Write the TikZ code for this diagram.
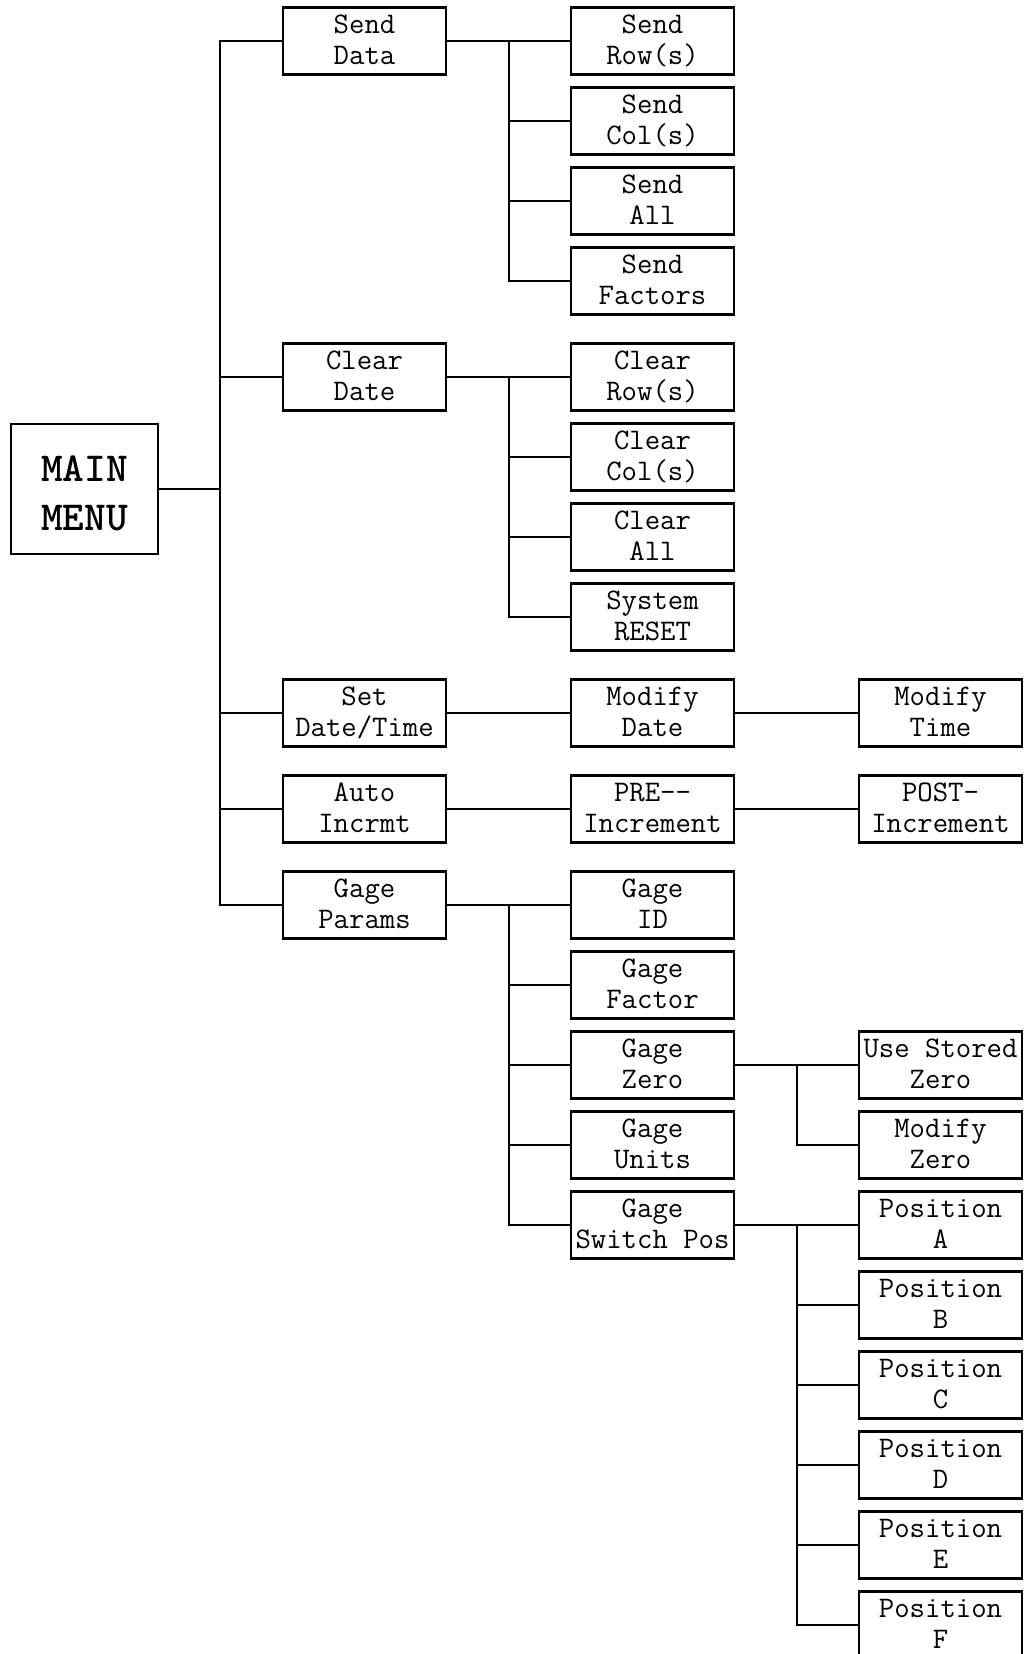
\documentclass[tikz,border=0pt]{standalone}
\usepackage{fontspec}
\begin{document}
\begin{tikzpicture}[x=0.02cm, y=-0.02cm, line width=1.2pt,
    voce/.style={draw, minimum width=3.26cm, minimum height=1.34cm, inner sep=0pt,
        text height=1.146cm, text depth=0.194cm,
        align=center, font=\ttfamily\fontsize{17}{18}\selectfont},
    radice/.style={draw, minimum width=2.94cm, minimum height=2.6cm, inner sep=0pt,
        text height=2.134cm, text depth=0.466cm,
        align=center, font=\ttfamily\bfseries\fontsize{23.5}{27.9}\selectfont}]
    \useasboundingbox (0,0) rectangle (1026,1654);

    % Menu principale
    \node[radice] (main) at (84.5,489) {MAIN\\MENU};

    % Primo livello
    \node[voce] (senddata) at (364.5,41) {Send\\Data};
    \node[voce] (cleardate) at (364.5,377) {Clear\\Date};
    \node[voce] (setdt) at (364.5,713) {Set\\Date/Time};
    \node[voce] (autoinc) at (364.5,809) {Auto\\Incrmt};
    \node[voce] (gageprm) at (364.5,905) {Gage\\Params};

    % Secondo livello
    \node[voce] (sendrow) at (652.5,41) {Send\\Row(s)};
    \node[voce] (sendcol) at (652.5,121) {Send\\Col(s)};
    \node[voce] (sendall) at (652.5,201) {Send\\All};
    \node[voce] (sendfact) at (652.5,281) {Send\\Factors};
    \node[voce] (clrrow) at (652.5,377) {Clear\\Row(s)};
    \node[voce] (clrcol) at (652.5,457) {Clear\\Col(s)};
    \node[voce] (clrall) at (652.5,537) {Clear\\All};
    \node[voce] (sysreset) at (652.5,617) {System\\RESET};
    \node[voce] (moddate) at (652.5,713) {Modify\\Date};
    \node[voce] (preinc) at (652.5,809) {PRE-{}-\\Increment};
    \node[voce] (gageid) at (652.5,905) {Gage\\ID};
    \node[voce] (gagefact) at (652.5,985) {Gage\\Factor};
    \node[voce] (gagezero) at (652.5,1065) {Gage\\Zero};
    \node[voce] (gageunits) at (652.5,1145) {Gage\\Units};
    \node[voce] (gageswitch) at (652.5,1225) {Gage\\Switch Pos};

    % Terzo livello
    \node[voce] (modtime) at (940.5,713) {Modify\\Time};
    \node[voce] (postinc) at (940.5,809) {POST-\\Increment};
    \node[voce] (usezero) at (940.5,1065) {Use Stored\\Zero};
    \node[voce] (modzero) at (940.5,1145) {Modify\\Zero};
    \foreach \l [count=\i from 0] in {A,B,C,D,E,F}
        \node[voce] (pos\l) at (940.5,1225+80*\i) {Position\\\l};

    % Punti di diramazione
    \coordinate (t0) at (220,489);
    \coordinate (b1) at (509,41);
    \coordinate (b2) at (509,377);
    \coordinate (b3) at (509,905);
    \coordinate (b4) at (797,1065);
    \coordinate (b5) at (797,1225);

    % Collegamenti
    \draw (main.east) -- (t0);
    \foreach \n in {senddata,cleardate,setdt,autoinc,gageprm}
        \draw (t0) |- (\n.west);
    \foreach \n in {sendrow,sendcol,sendall,sendfact}
        \draw (senddata.east) -- (b1) |- (\n.west);
    \foreach \n in {clrrow,clrcol,clrall,sysreset}
        \draw (cleardate.east) -- (b2) |- (\n.west);
    \draw (setdt.east) -- (moddate.west);
    \draw (moddate.east) -- (modtime.west);
    \draw (autoinc.east) -- (preinc.west);
    \draw (preinc.east) -- (postinc.west);
    \foreach \n in {gageid,gagefact,gagezero,gageunits,gageswitch}
        \draw (gageprm.east) -- (b3) |- (\n.west);
    \foreach \n in {usezero,modzero}
        \draw (gagezero.east) -- (b4) |- (\n.west);
    \foreach \n in {posA,posB,posC,posD,posE,posF}
        \draw (gageswitch.east) -- (b5) |- (\n.west);
\end{tikzpicture}
\end{document}
